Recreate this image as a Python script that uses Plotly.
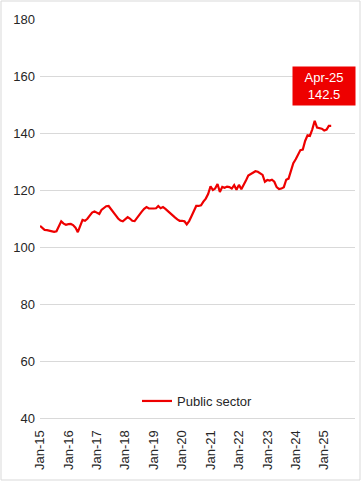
import pandas as pd
import plotly.graph_objects as go

# Monthly index, Jan-15 .. Apr-25
start_month = "2015-01-01"
public_sector = [
    107.4, 106.7, 106.0, 105.9, 105.7, 105.5, 105.3, 105.5, 107.4, 109.0, 108.2, 107.8,
    108.0, 108.1, 107.7, 106.8, 105.2, 107.1, 109.5, 109.2, 109.9, 111.0, 112.1, 112.5,
    112.0, 111.6, 113.0, 113.7, 114.3, 114.4, 113.2, 112.1, 111.1, 110.0, 109.3, 109.0,
    109.7, 110.5, 110.0, 109.2, 109.1, 110.3, 111.4, 112.4, 113.4, 114.0, 113.5, 113.4,
    113.5, 113.6, 114.4, 113.6, 114.0, 113.4, 112.6, 111.7, 111.1, 110.4, 109.7, 109.2,
    109.2, 109.0, 107.9, 109.1, 110.8, 112.5, 114.4, 114.4, 114.6, 115.9, 117.0, 118.6,
    121.3, 120.0, 120.5, 122.1, 119.3, 121.1, 120.8, 121.2, 121.0, 120.5, 121.7, 120.1,
    121.8, 120.3, 121.6, 123.3, 125.1, 125.7, 126.1, 126.6, 126.4, 126.0, 125.3, 122.9,
    123.5, 123.3, 123.6, 122.9, 121.0, 120.3, 120.5, 121.0, 123.6, 124.0, 126.9, 129.4,
    130.8, 132.6, 134.0, 134.2, 137.2, 139.2, 139.0, 141.3, 144.3, 141.9, 141.6, 141.5,
    140.9, 141.2, 142.5, 142.5,
]
dates = pd.date_range(start_month, periods=len(public_sector), freq="MS")
tick_dates = pd.date_range("2015-01-01", "2025-01-01", freq="YS")
tick_labels = [d.strftime("%b-%y") for d in tick_dates]
y_ticks = [40, 60, 80, 100, 120, 140, 160, 180]
series_name = "Public sector"
last_label = f"{dates[-1].strftime('%b-%y')}<br>{public_sector[-1]:.1f}"

RED = "#ee0000"
FONT = "Liberation Sans, Arial, sans-serif"

fig = go.Figure()
fig.add_trace(go.Scatter(
    x=dates, y=public_sector, mode="lines", name=series_name,
    line=dict(color=RED, width=2.2),
))

W, H = 361, 481
ml, mr, mt, mb = 40, 6, 19, 63
pw, ph = W - ml - mr, H - mt - mb

fig.update_layout(
    width=W, height=H,
    margin=dict(l=ml, r=mr, t=mt, b=mb),
    paper_bgcolor="white", plot_bgcolor="white",
    font=dict(family=FONT, size=13, color="#262626"),
    showlegend=True,
    legend=dict(orientation="h", x=0.5, xanchor="center", y=0.005, yanchor="bottom",
                bgcolor="rgba(255,255,255,0)", font=dict(size=13, color="#262626"),
                itemwidth=30),
    xaxis=dict(
        range=[pd.Timestamp("2015-01-01"), pd.Timestamp("2026-02-01")],
        tickmode="array", tickvals=tick_dates, ticktext=tick_labels,
        tickangle=-90, showgrid=False, zeroline=False,
        showline=True, linecolor="#d9d9d9", linewidth=1,
        ticks="", ticklen=0, ticklabelstandoff=6,
        tickfont=dict(size=13, color="#262626"),
    ),
    yaxis=dict(
        range=[40, 180], tickmode="array", tickvals=y_ticks,
        showgrid=True, gridcolor="#d9d9d9", gridwidth=1,
        zeroline=False, showline=False, ticks="", ticklabelstandoff=4,
        tickfont=dict(size=13, color="#262626"),
    ),
    annotations=[dict(
        xref="paper", yref="paper",
        x=(324 - ml) / pw, y=(H - mb - 86) / ph,
        xanchor="center", yanchor="middle",
        text=last_label, showarrow=False,
        font=dict(color="white", size=13, family=FONT),
        bgcolor=RED, borderpad=3, width=56,
    )],
    shapes=[dict(
        type="rect", xref="paper", yref="paper",
        x0=(1 - ml) / pw, x1=(W - 1 - ml) / pw,
        y0=-(mb - 1) / ph, y1=1 + (mt - 1) / ph,
        line=dict(color="#d9d9d9", width=1), fillcolor="rgba(0,0,0,0)",
        layer="below",
    )],
)

fig.write_html("out.html")
